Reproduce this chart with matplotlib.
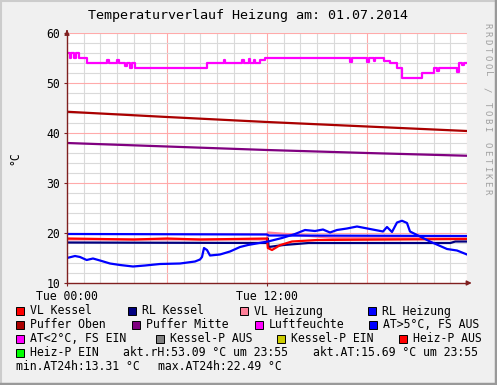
import matplotlib
matplotlib.use("Agg")
from matplotlib import pyplot as plt
from matplotlib.patches import Rectangle

W, H = 497, 385

# --- data (hours since Tue 00:00, values in °C / %rH) ---
lf_t = [0, 0.15, 0.25, 0.4, 0.55, 0.7, 1.2, 2.4, 2.5, 3.0, 3.1, 3.5, 3.6, 3.8, 3.9,
        4.1, 4.2, 8.4, 9.4, 9.5, 10.5, 10.6, 10.9, 11.0, 11.2, 11.3, 11.6, 11.9,
        17.0, 17.1, 18.0, 18.1, 18.4, 18.5, 19.0, 19.4, 19.8, 20.1, 21.3, 22.0,
        22.2, 22.3, 23.4, 23.5, 23.7, 23.8, 24]
lf_v = [56, 55, 56, 55, 56, 55, 54, 54.6, 54, 54.7, 54, 53.5, 54, 53, 54,
        53, 53, 54, 54.6, 54, 54.7, 54, 54.8, 54, 54.7, 54, 54.6, 55,
        54.2, 55, 54.2, 55, 54.5, 55, 54.5, 54, 53, 51, 52, 53,
        52.5, 53, 52.3, 54, 53.6, 54, 54]

po_t = [0, 6, 12, 18, 24]
po_v = [44.25, 43.2, 42.2, 41.3, 40.4]
pm_t = [0, 6, 12, 18, 24]
pm_v = [38.0, 37.3, 36.6, 36.0, 35.45]

rlh_t = [0, 12, 12.1, 24]
rlh_v = [19.8, 19.7, 19.5, 19.4]
vlk_t = [0, 4, 6, 8, 12, 12.05, 12.3, 12.8, 13.5, 15, 24]
vlk_v = [18.9, 18.7, 18.9, 18.7, 18.9, 17.0, 16.6, 17.6, 18.3, 18.6, 18.8]
rlk_t = [0, 12, 12.05, 12.1, 13, 14.5, 23, 23.3, 24]
rlk_v = [18.1, 18.0, 18.9, 17.2, 17.6, 18.0, 18.0, 18.3, 18.3]
vlh_t = [0, 12, 12.05, 16, 24]
vlh_v = [18.7, 18.7, 20.1, 19.0, 18.9]

at_t = [0.0, 0.48, 0.78, 1.18, 1.56, 1.98, 2.58, 3.18, 3.96, 4.68, 5.58, 6.78, 7.68,
        7.98, 8.1, 8.22, 8.4, 8.58, 9.18, 9.78, 10.38, 10.86, 11.7, 12.06, 12.9,
        13.68, 14.28, 14.88, 15.36, 15.78, 16.2, 16.8, 17.4, 18.18, 18.96, 19.2,
        19.5, 19.8, 20.1, 20.4, 20.58, 21.0, 21.78, 22.8, 23.4, 24.0]
at_v = [15.0, 15.4, 15.2, 14.6, 14.9, 14.5, 13.9, 13.6, 13.3, 13.5, 13.8, 13.9, 14.3,
        14.7, 15.2, 17.0, 16.6, 15.5, 15.7, 16.3, 17.2, 17.6, 18.1, 18.3, 19.0,
        19.8, 20.6, 20.4, 20.7, 20.1, 20.6, 20.9, 21.3, 20.8, 20.3, 21.2,
        20.2, 22.1, 22.45, 22.0, 20.3, 19.6, 18.3, 16.8, 16.5, 15.7]

legend_rows = [
    [("VL Kessel", "#ff0000", 16), ("RL Kessel", "#000080", 128), ("VL Heizung", "#ff8099", 240), ("RL Heizung", "#0000ff", 368)],
    [("Puffer Oben", "#aa0000", 16), ("Puffer Mitte", "#800080", 132), ("Luftfeuchte", "#ff00ff", 255), ("AT>5°C, FS AUS", "#0000ff", 369)],
    [("AT<2°C, FS EIN", "#ff00ff", 16), ("Kessel-P AUS", "#808080", 156), ("Kessel-P EIN", "#cccc00", 277), ("Heiz-P AUS", "#ff0000", 399)],
    [("Heiz-P EIN", "#00ff00", 16)],
]
info_texts = [("akt.rH:53.09 °C um 23:55", 123, 353), ("akt.AT:15.69 °C um 23:55", 313, 353),
              ("min.AT24h:13.31 °C", 16, 367), ("max.AT24h:22.49 °C", 158, 367)]
watermark = "RRDTOOL / TOBI OETIKER"

plt.rcParams['font.family'] = ['DejaVu Sans Mono']

fig = plt.figure(figsize=(W / 100, H / 100), dpi=100)
fig.patch.set_facecolor("#f0f0f0")

def fx(px):
    return px / W

def fy(py):
    return 1 - py / H

ax = fig.add_axes([fx(67), fy(283), 400 / W, 250 / H])
ax.set_xlim(0, 24)
ax.set_ylim(10, 60)

# grid
for h in range(1, 25):
    ax.axvline(h, color="#ffaaaa" if h % 6 == 0 else "#dadada", lw=0.8, zorder=0)
for v in range(12, 61, 2):
    ax.axhline(v, color="#ffaaaa" if v % 10 == 0 else "#dadada", lw=0.8, zorder=0)

lw = 1.6
ax.plot(vlh_t, vlh_v, color="#ff8099", lw=lw)
ax.plot(rlk_t, rlk_v, color="#000080", lw=lw)
ax.plot(vlk_t, vlk_v, color="#ff0000", lw=lw)
ax.plot(rlh_t, rlh_v, color="#0000ff", lw=lw)
ax.plot(po_t, po_v, color="#aa0000", lw=lw)
ax.plot(pm_t, pm_v, color="#800080", lw=lw)
ax.plot(lf_t, lf_v, color="#ff00ff", lw=lw, drawstyle="steps-post")
ax.plot(at_t, at_v, color="#0000ff", lw=lw)

for s in ["top", "right"]:
    ax.spines[s].set_visible(False)
for s in ["left", "bottom"]:
    ax.spines[s].set_color("#802020")
    ax.spines[s].set_linewidth(1.0)
ax.set_facecolor("white")

ax.set_xticks([0, 12])
ax.set_xticklabels(["Tue 00:00", "Tue 12:00"], fontsize=8.3)
ax.set_yticks([10, 20, 30, 40, 50, 60])
ax.tick_params(axis="both", length=2, color="#802020", labelsize=8.3, pad=3)
ax.set_ylabel("°C", fontsize=8.3, labelpad=18)

# arrows on axes
ax.annotate("", xy=(24.45, 10), xytext=(23.9, 10), annotation_clip=False,
            arrowprops=dict(arrowstyle="-|>", color="#802020", lw=1, mutation_scale=7))
ax.annotate("", xy=(0, 61.2), xytext=(0, 59.8), annotation_clip=False,
            arrowprops=dict(arrowstyle="-|>", color="#802020", lw=1, mutation_scale=7))

fig.text(fx(248), fy(16), "Temperaturverlauf Heizung am: 01.07.2014",
         ha="center", va="center", fontsize=9.6)
# vertical watermark, widely spaced letters
for i, ch in enumerate(watermark):
    fig.text(fx(487), fy(26 + 7.9 * i), ch, rotation=270,
             ha="center", va="center", fontsize=6.5, color="#a0a0a0")

# legend
for r, row in enumerate(legend_rows):
    yc = 311 + 14 * r
    for label, col, x0 in row:
        fig.patches.append(Rectangle((fx(x0), fy(yc + 4)), 8 / W, 8 / H, transform=fig.transFigure,
                                     facecolor=col, edgecolor="black", lw=0.7))
        fig.text(fx(x0 + 14), fy(yc), label, ha="left", va="center", fontsize=8.3)
for txt, x0, yc in info_texts:
    fig.text(fx(x0), fy(yc), txt, ha="left", va="center", fontsize=8.3)

# frame
fig.add_artist(plt.Line2D([fx(0.5), fx(0.5)], [0, 1], color="#cccccc", lw=1.5, transform=fig.transFigure))
fig.add_artist(plt.Line2D([0, 1], [fy(0.5), fy(0.5)], color="#cccccc", lw=1.5, transform=fig.transFigure))
fig.add_artist(plt.Line2D([fx(496), fx(496)], [0, 1], color="#999999", lw=2.5, transform=fig.transFigure))
fig.add_artist(plt.Line2D([0, 1], [fy(384), fy(384)], color="#999999", lw=2.5, transform=fig.transFigure))

fig.savefig("out.png", dpi=100, facecolor=fig.get_facecolor())
